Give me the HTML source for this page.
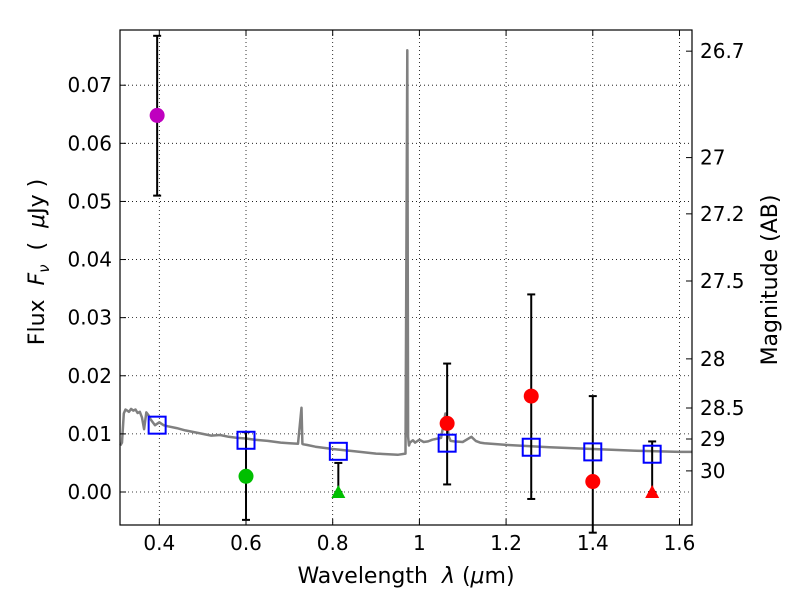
<!DOCTYPE html>
<html><head><meta charset="utf-8"><style>
html,body{margin:0;padding:0;background:#fff;}
svg text{font-family:"DejaVu Sans","Liberation Sans",sans-serif;}
</style></head><body>
<svg id="chart" width="800" height="600" xmlns="http://www.w3.org/2000/svg">
<rect width="800" height="600" fill="#fff"/>
<g id="grid"></g>
<g id="spec"></g>
<g id="marks"></g>
<rect x="120" y="30" width="572" height="495" fill="none" stroke="#000" stroke-width="1.2"/>
<g id="axes"></g>
<text x="406" y="583" font-size="22" text-anchor="middle">Wavelength&#160;&#160;<tspan font-style="italic">λ</tspan> (<tspan font-style="italic">μ</tspan>m)</text>
<text transform="translate(44,262) rotate(-90)" font-size="22" text-anchor="middle">Flux&#160;&#160;<tspan font-style="italic">F</tspan><tspan font-style="italic" font-size="15" dy="5">ν</tspan><tspan dy="-5">&#160;&#160;(&#160;&#160;</tspan><tspan font-style="italic">μ</tspan>Jy )</text>
<text transform="translate(777,280) rotate(-90)" font-size="22" text-anchor="middle">Magnitude (AB)</text>
</svg>
<script>
const xTicks=[0.4,0.6,0.8,1.0,1.2,1.4,1.6];
const xTickLabels=["0.4","0.6","0.8","1","1.2","1.4","1.6"];
const yTicks=[0,0.01,0.02,0.03,0.04,0.05,0.06,0.07];
const yTickLabels=["0.00","0.01","0.02","0.03","0.04","0.05","0.06","0.07"];
const magTicks=[26.7,27,27.2,27.5,28,28.5,29,30];
const magTickLabels=["26.7","27","27.2","27.5","28","28.5","29","30"];
const specWave=[0.31,0.314,0.318,0.322,0.33,0.335,0.34,0.345,0.35,0.355,0.36,0.365,0.37,0.375,0.38,0.39,0.4,0.41,0.42,0.44,0.46,0.48,0.5,0.52,0.54,0.56,0.58,0.6,0.62,0.65,0.68,0.7,0.72,0.728,0.73,0.732,0.74,0.76,0.8,0.85,0.9,0.95,0.968,0.972,0.974,0.976,0.978,0.985,0.99,1.0,1.01,1.02,1.03,1.05,1.06,1.068,1.072,1.08,1.1,1.12,1.13,1.14,1.15,1.2,1.3,1.4,1.5,1.6,1.629];
const specFlux=[0.008,0.0085,0.0135,0.0142,0.0138,0.0143,0.0140,0.0142,0.0136,0.0138,0.0128,0.0108,0.0137,0.0132,0.0125,0.0115,0.0120,0.0115,0.0113,0.0110,0.0106,0.0103,0.0100,0.0097,0.0098,0.0095,0.0093,0.0092,0.0090,0.0088,0.0085,0.0084,0.0083,0.0145,0.0083,0.0082,0.0081,0.0078,0.0074,0.0070,0.0066,0.0064,0.0066,0.076,0.0095,0.0080,0.0085,0.0089,0.0085,0.0090,0.0086,0.0087,0.0090,0.0093,0.0135,0.0095,0.0088,0.0087,0.0086,0.0095,0.0088,0.0085,0.0084,0.0081,0.0077,0.0074,0.0071,0.0069,0.0069];
const purpleX=[0.395];const purpleY=[0.0648];const purpleLo=[0.051];const purpleHi=[0.0785];
const greenX=[0.6];const greenY=[0.0027];const greenLo=[-0.0048];const greenHi=[0.0103];
const greenUlX=[0.813];const greenUlY=[0];const greenUlHi=[0.005];
const redX=[1.064,1.258,1.4];const redY=[0.0118,0.0165,0.0018];const redLo=[0.0013,-0.0012,-0.007];const redHi=[0.0221,0.034,0.0165];
const redUlX=[1.537];const redUlY=[0];const redUlHi=[0.0087];
const modelX=[0.395,0.6,0.813,1.064,1.258,1.4,1.537];
const modelY=[0.0115,0.0089,0.0070,0.0084,0.0077,0.0069,0.0065];

const L=120,R=692,T=30,B=525;
const xmin=0.3093,xmax=1.6289,ymin=-0.00568,ymax=0.0795;
const xs=v=>L+(v-xmin)/(xmax-xmin)*(R-L);
const ys=v=>B-(v-ymin)/(ymax-ymin)*(B-T);
const NS="http://www.w3.org/2000/svg";
function mk(tag,attrs,parent){const e=document.createElementNS(NS,tag);for(const k in attrs)e.setAttribute(k,attrs[k]);parent.appendChild(e);return e;}
const grid=document.getElementById('grid'),axes=document.getElementById('axes'),spec=document.getElementById('spec'),marks=document.getElementById('marks');
xTicks.forEach((v,i)=>{const x=xs(v);
 let g=mk('line',{x1:x,x2:x,y1:T,y2:B,stroke:'#000','stroke-width':0.8,'stroke-dasharray':'1,3'},grid);
 
 mk('line',{x1:x,x2:x,y1:B,y2:B-6,stroke:'#000'},axes);mk('line',{x1:x,x2:x,y1:T,y2:T+6,stroke:'#000'},axes);
 let t=mk('text',{x:x,y:B+25,'font-size':20,'text-anchor':'middle'},axes);t.textContent=xTickLabels[i];
 });
yTicks.forEach((v,i)=>{const y=ys(v);
 let g=mk('line',{x1:L,x2:R,y1:y,y2:y,stroke:'#000','stroke-width':0.8,'stroke-dasharray':'1,3'},grid);
 
 mk('line',{x1:L,x2:L+6,y1:y,y2:y,stroke:'#000'},axes);
 let t=mk('text',{x:L-8,y:y+7,'font-size':20,'text-anchor':'end'},axes);t.textContent=yTickLabels[i];
 });
magTicks.forEach((m,i)=>{const f=Math.pow(10,(23.9-m)/2.5);const y=ys(f);
 mk('line',{x1:R-6,x2:R,y1:y,y2:y,stroke:'#000'},axes);
 let t=mk('text',{x:R+8,y:y+7,'font-size':20,'text-anchor':'start'},axes);t.textContent=magTickLabels[i];
 });
let d=specWave.map((w,i)=>(i?'L':'M')+xs(w).toFixed(1)+','+ys(specFlux[i]).toFixed(1)).join('');
let p=mk('path',{d:d,fill:'none',stroke:'#808080','stroke-width':2.5,'stroke-linejoin':'round'},spec);

function err(x,lo,hi){const X=xs(x),y1=ys(lo),y2=ys(hi);
 let e=mk('line',{x1:X,x2:X,y1:y1,y2:y2,stroke:'#000','stroke-width':2},marks);
 
 mk('line',{x1:X-4,x2:X+4,y1:y1,y2:y1,stroke:'#000','stroke-width':2},marks);
 mk('line',{x1:X-4,x2:X+4,y1:y2,y2:y2,stroke:'#000','stroke-width':2},marks);}
function circ(x,y,col,name){let c=mk('circle',{cx:xs(x),cy:ys(y),r:7.5,fill:col},marks);
 }
function tri(x,y,col,name){const X=xs(x),Y=ys(y);let t=mk('polygon',{points:`${X},${Y-7} ${X-7},${Y+6} ${X+7},${Y+6}`,fill:col},marks);
 }
purpleX.forEach((x,i)=>{err(x,purpleLo[i],purpleHi[i]);circ(x,purpleY[i],'#bf00bf','purple-point');});
greenX.forEach((x,i)=>{err(x,greenLo[i],greenHi[i]);circ(x,greenY[i],'#00bf00','green-point');});
greenUlX.forEach((x,i)=>{err(x,greenUlY[i],greenUlHi[i]);tri(x,greenUlY[i],'#00bf00','green-upper-limit');});
redX.forEach((x,i)=>{err(x,redLo[i],redHi[i]);circ(x,redY[i],'#ff0000','red-point');});
redUlX.forEach((x,i)=>{err(x,redUlY[i],redUlHi[i]);tri(x,redUlY[i],'#ff0000','red-upper-limit');});
modelX.forEach((x,i)=>{let s=mk('rect',{x:xs(x)-8.5,y:ys(modelY[i])-8.5,width:17,height:17,fill:'none',stroke:'#0000ff','stroke-width':2},marks);
 });
</script>
</body></html>
